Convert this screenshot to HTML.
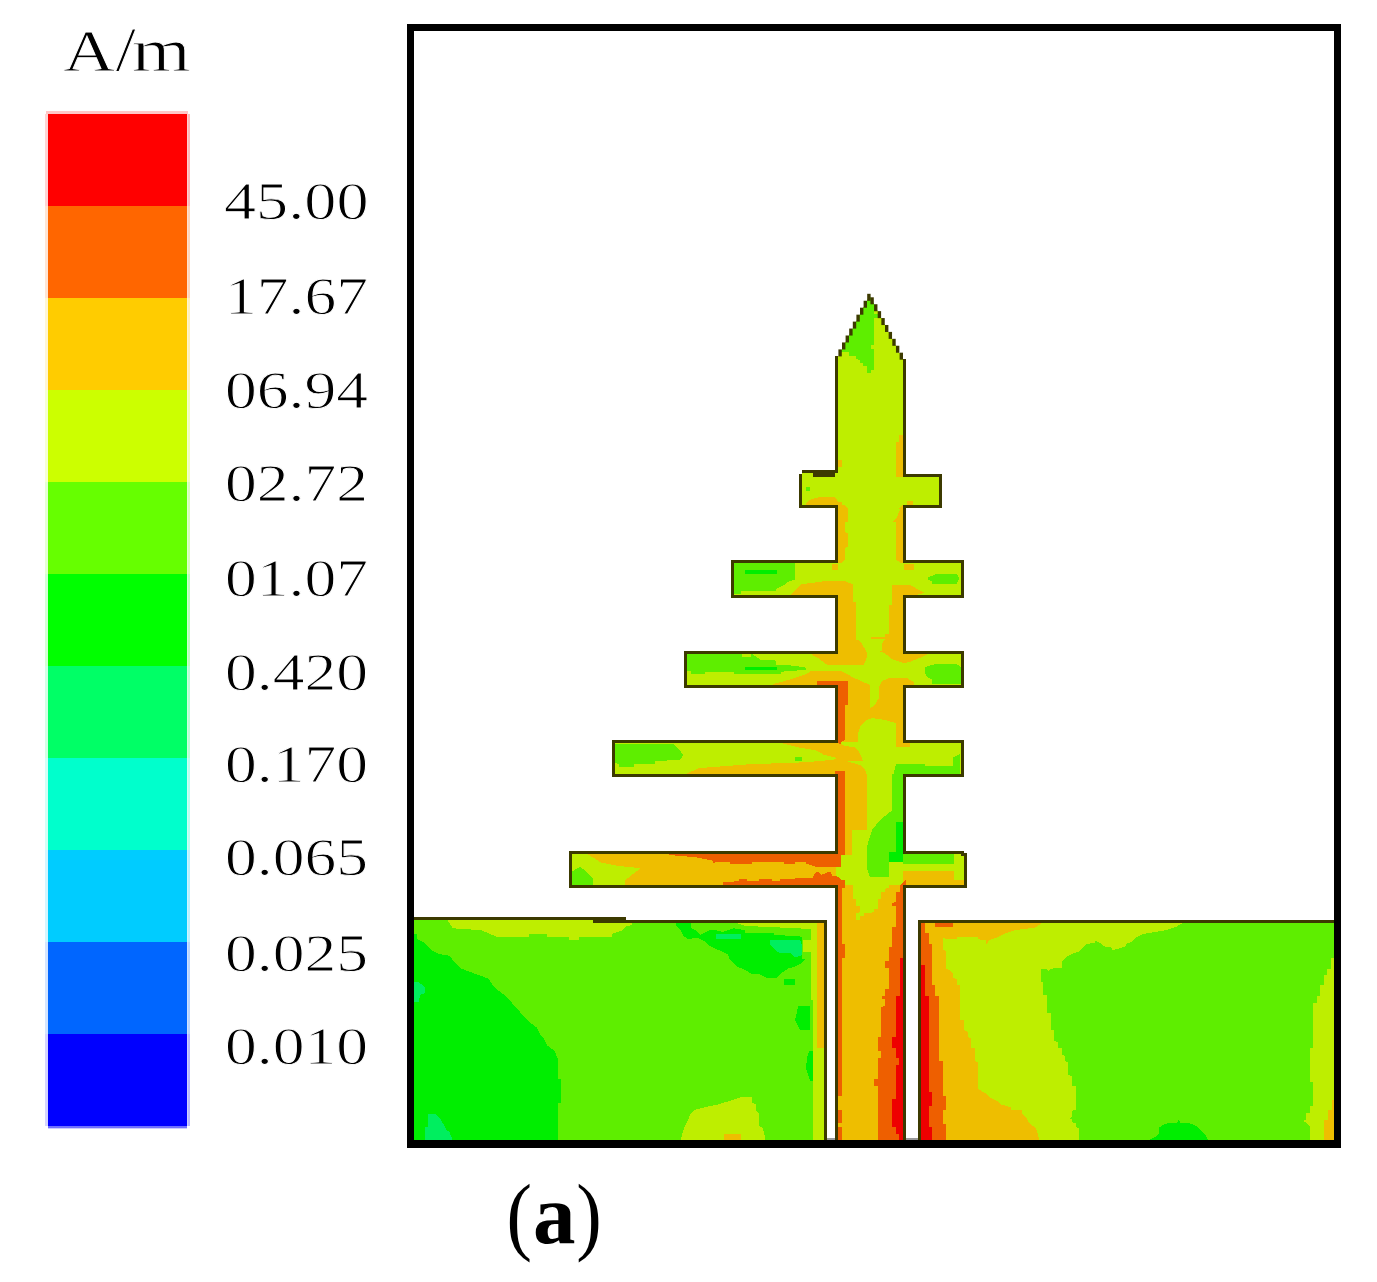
<!DOCTYPE html>
<html><head><meta charset="utf-8">
<style>
html,body{margin:0;padding:0;background:#fff;}
body{width:1377px;height:1282px;overflow:hidden;}
svg{display:block;}
text{font-family:"Liberation Serif",serif;fill:#000;}
</style></head>
<body>
<svg width="1377" height="1282" viewBox="0 0 1377 1282">
<defs>
<clipPath id="ant"><path id="antp" d="M836.5,1141 L836.5,886.5 L570.5,886.5 L570.5,852.5 L836.5,852.5 L836.5,775.5 L613.5,775.5 L613.5,741.5 L836.5,741.5 L836.5,686.5 L685.5,686.5 L685.5,652.5 L836.5,652.5 L836.5,596.5 L732.5,596.5 L732.5,561.5 L836.5,561.5 L836.5,506.5 L800.5,506.5 L800.5,474 L802,474 L802,471.5 L836.5,471.5 L836.5,357 L838.2,356.4 L869.56,295.8 L903,359.2 L904.5,359.2 L904.5,475.5 L940.5,475.5 L940.5,506.5 L904.5,506.5 L904.5,561.5 L962.5,561.5 L962.5,596.5 L904.5,596.5 L904.5,652.5 L962.5,652.5 L962.5,686.5 L904.5,686.5 L904.5,741.5 L962.5,741.5 L962.5,775.5 L904.5,775.5 L904.5,852.5 L962.5,852.5 L962.5,854.5 L965.5,854.5 L965.5,886.5 L904.5,886.5 L904.5,1141 Z"/></clipPath>
<clipPath id="lgpc"><path d="M414,920 H626 V922 H825 V1141 H414 Z"/></clipPath>
<clipPath id="rgpc"><rect x="920" y="922" width="415" height="219"/></clipPath>
</defs>

<!-- legend -->
<g shape-rendering="crispEdges">
<rect x="45" y="111" width="145" height="1018" fill="#fff"/>
<rect x="48" y="114" width="139" height="92" fill="#FF0000"/>
<rect x="48" y="206" width="139" height="92" fill="#FF6600"/>
<rect x="48" y="298" width="139" height="92" fill="#FFCC00"/>
<rect x="48" y="390" width="139" height="92" fill="#CCFF00"/>
<rect x="48" y="482" width="139" height="92" fill="#66FF00"/>
<rect x="48" y="574" width="139" height="92" fill="#00FF00"/>
<rect x="48" y="666" width="139" height="92" fill="#00FF66"/>
<rect x="48" y="758" width="139" height="92" fill="#00FFCC"/>
<rect x="48" y="850" width="139" height="92" fill="#00CCFF"/>
<rect x="48" y="942" width="139" height="92" fill="#0066FF"/>
<rect x="48" y="1034" width="139" height="92" fill="#0000FF"/>
<rect x="45" y="114" width="3" height="92" fill="#FF0000" opacity="0.17"/>
<rect x="187" y="114" width="1" height="92" fill="#FF0000" opacity="0.19"/>
<rect x="188" y="114" width="2" height="92" fill="#FF0000" opacity="0.27"/>
<rect x="45" y="206" width="3" height="92" fill="#FF6600" opacity="0.17"/>
<rect x="187" y="206" width="1" height="92" fill="#FF6600" opacity="0.19"/>
<rect x="188" y="206" width="2" height="92" fill="#FF6600" opacity="0.27"/>
<rect x="45" y="298" width="3" height="92" fill="#FFCC00" opacity="0.17"/>
<rect x="187" y="298" width="1" height="92" fill="#FFCC00" opacity="0.19"/>
<rect x="188" y="298" width="2" height="92" fill="#FFCC00" opacity="0.27"/>
<rect x="45" y="390" width="3" height="92" fill="#CCFF00" opacity="0.17"/>
<rect x="187" y="390" width="1" height="92" fill="#CCFF00" opacity="0.19"/>
<rect x="188" y="390" width="2" height="92" fill="#CCFF00" opacity="0.27"/>
<rect x="45" y="482" width="3" height="92" fill="#66FF00" opacity="0.17"/>
<rect x="187" y="482" width="1" height="92" fill="#66FF00" opacity="0.19"/>
<rect x="188" y="482" width="2" height="92" fill="#66FF00" opacity="0.27"/>
<rect x="45" y="574" width="3" height="92" fill="#00FF00" opacity="0.17"/>
<rect x="187" y="574" width="1" height="92" fill="#00FF00" opacity="0.19"/>
<rect x="188" y="574" width="2" height="92" fill="#00FF00" opacity="0.27"/>
<rect x="45" y="666" width="3" height="92" fill="#00FF66" opacity="0.17"/>
<rect x="187" y="666" width="1" height="92" fill="#00FF66" opacity="0.19"/>
<rect x="188" y="666" width="2" height="92" fill="#00FF66" opacity="0.27"/>
<rect x="45" y="758" width="3" height="92" fill="#00FFCC" opacity="0.17"/>
<rect x="187" y="758" width="1" height="92" fill="#00FFCC" opacity="0.19"/>
<rect x="188" y="758" width="2" height="92" fill="#00FFCC" opacity="0.27"/>
<rect x="45" y="850" width="3" height="92" fill="#00CCFF" opacity="0.17"/>
<rect x="187" y="850" width="1" height="92" fill="#00CCFF" opacity="0.19"/>
<rect x="188" y="850" width="2" height="92" fill="#00CCFF" opacity="0.27"/>
<rect x="45" y="942" width="3" height="92" fill="#0066FF" opacity="0.17"/>
<rect x="187" y="942" width="1" height="92" fill="#0066FF" opacity="0.19"/>
<rect x="188" y="942" width="2" height="92" fill="#0066FF" opacity="0.27"/>
<rect x="45" y="1034" width="3" height="92" fill="#0000FF" opacity="0.17"/>
<rect x="187" y="1034" width="1" height="92" fill="#0000FF" opacity="0.19"/>
<rect x="188" y="1034" width="2" height="92" fill="#0000FF" opacity="0.27"/>
<rect x="46" y="111" width="142" height="3" fill="#FF0000" opacity="0.22"/>
<rect x="48" y="1126" width="139" height="2" fill="#0000FF" opacity="0.56"/>
<rect x="48" y="1128" width="139" height="1" fill="#0000FF" opacity="0.2"/>
</g>
<g font-size="60" stroke="#fff" stroke-width="0.8">
<text transform="translate(63.2,71.1) scale(1.196,1)">A</text>
<text transform="translate(115.6,71.1) scale(1.22,1.045)">/</text>
<text transform="translate(132.1,71.1) scale(1.254,1.025)">m</text>
</g>
<g font-size="52" stroke="#fff" stroke-width="0.9">
<text x="224" y="219.1" textLength="144.5" lengthAdjust="spacingAndGlyphs">45.00</text>
<text x="225" y="314.4" textLength="143" lengthAdjust="spacingAndGlyphs">17.67</text>
<text x="225" y="408.1" textLength="143" lengthAdjust="spacingAndGlyphs">06.94</text>
<text x="225" y="500.7" textLength="143" lengthAdjust="spacingAndGlyphs">02.72</text>
<text x="225" y="596.1" textLength="143" lengthAdjust="spacingAndGlyphs">01.07</text>
<text x="225" y="689.5" textLength="143" lengthAdjust="spacingAndGlyphs">0.420</text>
<text x="225" y="782.2" textLength="143" lengthAdjust="spacingAndGlyphs">0.170</text>
<text x="225" y="874.8" textLength="143" lengthAdjust="spacingAndGlyphs">0.065</text>
<text x="225" y="971.0" textLength="143" lengthAdjust="spacingAndGlyphs">0.025</text>
<text x="225" y="1064.0" textLength="143" lengthAdjust="spacingAndGlyphs">0.010</text>
</g>

<!-- ground planes -->
<g shape-rendering="crispEdges">
<rect x="414" y="920" width="411" height="221" fill="#5EEE00"/>
<rect x="919" y="921" width="416" height="220" fill="#5EEE00"/>
</g>
<g clip-path="url(#lgpc)" shape-rendering="crispEdges">
<polygon fill="#00EE00" points="414,933.8 417.3,933.8 417.3,939.3 424.7,943 428.3,946.7 432,950.3 439.3,954 449.4,955.8 453.1,960.4 457.7,965 461.3,968.7 468.7,971.4 478.8,975.1 488.8,978.8 492.5,985.2 496.2,988.8 503.5,994.3 510.8,1001.7 518.2,1009.9 525.5,1018.2 529.2,1021.8 536.5,1027.3 540.2,1034.7 543.8,1038.3 547.5,1045.7 554.8,1051.2 557.6,1058.5 557.6,1078.7 561.3,1078.7 561.3,1102.5 557.6,1102.5 557.6,1141 414,1141"/>
<polygon fill="#00EE5F" points="414,982.4 419,982.4 424.7,987 424.7,993 420,995 419,1001.7 414,1001.7"/>
<polygon fill="#00EE5F" points="428.3,1113.5 434.8,1113.5 439.3,1117.2 443,1123.6 446.7,1130 449.4,1131.8 453.1,1141 424.7,1141 424.7,1127.2 428.3,1127.2"/>
<polygon fill="#BEEE00" points="446.7,919 453,928.3 481.5,930.2 496.2,936.6 529.2,936.6 529.2,933.5 546.6,933.5 547.5,936.6 568.6,936.6 568.6,939.7 578.7,939.7 578.7,936.6 611.7,936.6 611.7,933.8 622.7,930.2 626.3,926.5 632,925 632,919"/>
<polygon fill="#BEEE00" points="733,922 812,922 812,929 790,928 770,927 745,926"/>
<polygon fill="#00EE00" points="675.9,922.8 690.6,922.8 690.6,927.4 697.9,932 700.7,934.8 709.8,930.2 715.3,930.2 722.7,932 733.7,928.3 744.7,930.2 744.7,932.9 774,932.9 774,934.8 801.5,936.6 802.4,946.7 802.4,958.6 806.1,958.6 801.5,963.2 794.2,966.8 787.8,968.7 781.3,973.3 776.8,977.8 766.7,977.8 759.3,974.2 752,974.2 744.7,969.6 737.3,966.8 733.7,963.2 730,959.5 727.3,954 717.2,949.4 709.8,945.8 704.3,941.2 697,937.5 687.8,939.3 683.3,935.7 680.5,930.2 675.9,925.6"/>
<polygon fill="#00EE5F" points="770,940 800,940 802,945 802,955 795,957.5 790,953 780,953 775,950 770,945"/>
<rect x="716" y="934" width="25" height="5" fill="#00EE5F"/>
<rect x="784" y="979" width="11" height="6" fill="#00EE00"/>
<polygon fill="#00EE00" points="798,1006 809.7,1006 809.7,1030 800,1030 795,1020 797,1012"/>
<polygon fill="#00EE00" points="809,1051 816,1051 816,1081 810,1081 806,1068 807,1058"/>
<rect x="813.4" y="1092.4" width="6.4" height="10.1" fill="#00EE00"/>
<polygon fill="#BEEE00" points="810.7,922 826,922 826,1141 812.5,1141 812.5,1000 810.7,1000"/>
<polygon fill="#BEEE00" points="803,940 812,940 812,952 803,952"/>
<rect x="817" y="922" width="9" height="125.5" fill="#EEBE00"/>
<polygon fill="#BEEE00" points="680.5,1141 684.2,1127.2 687.8,1120.8 690.6,1113.5 694.3,1109.8 705.3,1107.1 719,1104.3 730,1100.7 741,1097 752,1097 752,1102.5 755.7,1104.3 755.7,1109.8 759.3,1113.5 759.3,1126.3 763,1128.3 765.8,1141"/>
<rect x="723.6" y="1133.7" width="17.4" height="7.3" fill="#EEBE00"/>
</g>
<g clip-path="url(#rgpc)" shape-rendering="crispEdges">
<polygon fill="#EEBE00" points="919,922 1042.5,922 1036.1,927.4 1015,930.2 1004,933.8 996.7,937.5 989.3,940.3 986.6,943.9 985.7,940.3 978.3,939.3 978.3,937.1 957.3,937.1 957.3,939.3 946.3,939.3 942.6,937.1 942.6,949.4 946.3,951.3 946.3,968.7 949.9,970.5 953,973.3 953,977.8 957.3,979.7 957.3,985.2 960,985.2 960,1020 963.7,1020 963.7,1030 968.3,1031.9 968.3,1037.4 971,1038.3 971,1047.5 974.7,1048.4 974.7,1061.3 978.3,1062.2 978.3,1088.8 982,1091.5 985.7,1093.3 989.3,1097 996.7,1100.7 1000.3,1104.3 1010.4,1107.1 1011.3,1110 1021.4,1110 1022.3,1113.5 1026,1117.2 1029.7,1123.6 1036.1,1128.3 1039.8,1141 919,1141"/>
<polygon fill="#BEEE00" points="1042.5,922 1036.1,927.4 1015,930.2 1004,933.8 996.7,937.5 989.3,940.3 986.6,943.9 985.7,940.3 978.3,939.3 978.3,937.1 957.3,937.1 957.3,939.3 946.3,939.3 942.6,937.1 942.6,949.4 946.3,951.3 946.3,968.7 949.9,970.5 953,973.3 953,977.8 957.3,979.7 957.3,985.2 960,985.2 960,1020 963.7,1020 963.7,1030 968.3,1031.9 968.3,1037.4 971,1038.3 971,1047.5 974.7,1048.4 974.7,1061.3 978.3,1062.2 978.3,1088.8 982,1091.5 985.7,1093.3 989.3,1097 996.7,1100.7 1000.3,1104.3 1010.4,1107.1 1011.3,1110 1021.4,1110 1022.3,1113.5 1026,1117.2 1029.7,1123.6 1036.1,1128.3 1039.8,1141 1079.2,1141 1079.2,1128.3 1076.4,1127.2 1076.4,1123.6 1072.7,1122.7 1071.8,1119 1069.1,1118.1 1071.8,1117.2 1071.8,1110.7 1075.5,1109.8 1075.5,1086 1071.8,1086 1071.8,1075.9 1068.2,1075 1068.2,1062.2 1065.4,1061.3 1065.4,1055.8 1061.8,1054.8 1061.8,1048.4 1058.1,1047.5 1058.1,1042 1054.4,1041.1 1054.4,1030.1 1050.8,1030.1 1050.8,1012.7 1047.1,1012.7 1047.1,995.3 1043.4,995.3 1043.4,981.5 1040.7,981.5 1040.7,968.7 1047.1,968.7 1048,971.4 1050.8,968.7 1061.8,967.7 1061.8,961.3 1065.4,957.7 1071.8,954 1079.2,951.3 1082.8,947.6 1086.5,943.9 1094.8,943 1094.8,940.3 1101.3,943.9 1104.8,946.7 1112.2,947.6 1112.2,950.3 1125,946.7 1126.4,943.9 1132.8,941.2 1136.5,937.5 1143.8,933.8 1165.8,930.2 1176.8,926.5 1184.2,922"/>
<polygon fill="#EE5F00" points="919,922 924.8,922 924.8,932.9 928.5,932.9 928.5,943.9 932.1,943.9 932.1,985.2 935.3,985.2 935.3,996.2 938.9,996.2 938.9,1061.3 942.6,1061.3 942.6,1096.1 945.7,1096.1 945.7,1109.8 942.6,1109.8 942.6,1123.6 945.7,1123.6 945.7,1141 919,1141"/>
<rect x="935" y="922" width="18" height="4.5" fill="#EE5F00"/>
<polygon fill="#EE0000" points="919,965 924.8,965 924.8,996.2 928.5,996.2 928.5,1092.4 932.1,1092.4 932.1,1106.2 928.5,1106.2 928.5,1127.2 932.1,1127.2 932.1,1141 919,1141"/>
<polygon fill="#BEEE00" points="1335,957.7 1330.9,957.7 1330.9,968.7 1327.2,968.7 1327.2,975.1 1323.9,975.1 1323.9,985.2 1320.2,985.2 1320.2,996.2 1317.1,996.2 1317.1,1002.6 1313.4,1002.6 1313.4,1047.5 1309.8,1047.5 1309.8,1082.3 1313.4,1082.3 1313.4,1106.2 1309.8,1106.2 1309.8,1112.6 1306.1,1113.5 1306.1,1119.9 1302.4,1120.8 1306.1,1122.5 1309.8,1126.3 1309.8,1141 1335,1141"/>
<polygon fill="#EEBE00" points="1331.8,1099.8 1335,1099.8 1335,1141 1323.9,1141 1323.9,1119.9 1328.1,1119.9 1328.1,1109.8 1331.8,1109.8"/>
<polygon fill="#00EE00" points="1147.5,1141 1154.8,1137.3 1158.5,1133.7 1159.4,1127.2 1165.8,1123.6 1176.8,1122.7 1178.7,1119.9 1180.5,1122.7 1191.5,1123.6 1197.9,1127.2 1201.6,1130.9 1205.3,1134.6 1208.9,1141"/>
</g>
<g fill="#3C3A00" shape-rendering="crispEdges">
<rect x="414" y="917" width="180" height="3"/>
<rect x="626" y="920" width="201" height="3"/>
<rect x="824" y="920" width="3" height="221"/>
<rect x="918" y="920" width="3" height="221"/>
<rect x="918" y="920" width="417" height="3"/>
</g>
<rect x="593" y="917" width="33" height="6" fill="#3C3A00" shape-rendering="crispEdges"/>

<!-- antenna -->
<use href="#antp" fill="#BEEE00" shape-rendering="crispEdges"/>
<g clip-path="url(#ant)" shape-rendering="crispEdges">
<polygon fill="#5EEE00" points="869.5,292 880,311 874.2,311 874.2,345.4 870.7,345.4 870.7,348.9 874.2,348.9 874.2,369.6 870.7,369.9 870.7,372.7 866.8,372.7 866.8,366.1 863.3,365.7 863.3,363.2 860.2,362.9 860.2,359.7 856.3,359.4 856.3,356.2 849,355.9 849,352.4 845.8,351.7 835,352"/>
<rect x="874.2" y="311" width="3.8" height="2.8" fill="#BEEE00"/>
<rect x="874.2" y="313.8" width="3.8" height="4.2" fill="#5EEE00"/>
<polygon fill="#EEBE00" points="899.3,434.9 903,434.9 903,476.7 906.8,476.7 906.8,472 903,472 903,476.7 896.1,476.7 896.1,442.4 899.3,442.4"/>
<rect x="899.3" y="434.9" width="4.7" height="42.1" fill="#EEBE00"/>
<rect x="896.1" y="442.4" width="3.9" height="19.9" fill="#EEBE00"/>
<rect x="838.1" y="459.8" width="3.8" height="6.9" fill="#EEBE00"/>
<polygon fill="#EEBE00" points="805.7,504.6 808,501 812,499 818,497.5 827,496.5 833,496.5 836,498 838.1,501.7 841.9,501.7 841.9,505.4 845,505.4 845.4,505.8 848.3,508.7 848.3,521.8 845.4,521.8 845.4,532 848.3,533.4 848.3,546.5 845.4,548 845.4,559.5 841.7,562.5 836,562.5 836,508"/>
<polygon fill="#EEBE00" points="903,505 899.3,508.5 900.5,508.7 896.2,518.9 892.6,521.8 896.2,521.8 896.2,559.5 899.8,562.5 906,562.5 906,505"/>
<rect x="906.8" y="501" width="6.2" height="3.8" fill="#EEBE00"/>
<rect x="806" y="487" width="3.7" height="4" fill="#5EEE00"/>
<rect x="831.6" y="563.9" width="6.5" height="5.8" fill="#EEBE00"/>
<rect x="903.5" y="563.9" width="10.1" height="5.8" fill="#EEBE00"/>
<polygon fill="#5EEE00" points="733.8,563.3 794.6,563.3 794.6,579.5 788.6,581.6 784.5,584.6 776.4,588.7 776.4,590.7 740.9,590.7 740.9,593.7 733.8,593.7"/>
<rect x="745" y="570.4" width="32.4" height="3.1" fill="#00EE00"/>
<polygon fill="#5EEE00" points="927.8,577.7 935.3,574.3 956.8,574.3 959.6,578 956.8,583.7 932.5,583.7 931.5,580.8 927.8,579.9"/>
<polygon fill="#EEBE00" points="789,597 791.6,594.4 801.8,584.2 823.6,581.3 845.4,581.3 852.6,584.2 852.6,601.7 855.5,601.7 855.5,639.4 859.9,640.9 863.5,646.7 867.1,652.5 867.1,656.7 863.5,665.4 827.9,665.4 819.2,658.9 809,653 836,653 836,597"/>
<polygon fill="#EEBE00" points="924.5,593 916.5,588.6 910.7,585 891.8,585 891.8,604.6 888.9,605.3 888.9,633.6 884.6,633.6 884.6,637.3 870.8,637.3 870.8,639.4 884.6,639.4 881.7,643.8 881.7,650.9 878.8,650.9 884.6,653 891.8,658.9 903.5,663.2 910,661.8 920.9,657.4 928.1,653.8 906,653 906,597"/>
<polygon fill="#5EEE00" points="687.2,653.5 741.9,653.5 741.9,656.6 751.1,656.6 751.1,653.5 760.2,659.6 776.4,660.6 776.4,664.7 794.6,665.7 805.8,667.7 805.8,669.8 780.5,671.8 780.5,673.8 733.8,673.8 733.8,671.8 705.4,671.8 705.4,673.8 691.2,673.8 691.2,670.8 687.2,670.8"/>
<rect x="745" y="666.7" width="32.4" height="3.6" fill="#00EE00"/>
<polygon fill="#5EEE00" points="925,667 935.3,664.2 956.8,664.2 960.6,667 960.6,683.9 932.5,683.9 931.5,679.2 927.8,677.3 925,673.6"/>
<polygon fill="#EEBE00" points="773.4,687 773.4,684 788.6,679.9 806.8,673.8 810.5,671.2 841,671.2 848.3,674.9 855.5,678.5 863.5,682.1 870,685 870,708.3 874.4,705.4 878.8,698.1 878.8,688 881.7,681.4 889,677.8 906.4,677.8 913.6,682.1 913.6,687 906,687 906,742 896,742 896,723 885,720 872,718 865,721 860,727 858,734 858,742 836,742 836,687"/>
<polygon fill="#EE5F00" points="817,681.4 848.3,681.4 848.3,705.4 845.4,705.4 845.4,740.2 841,741.7 841,746.8 831.6,746.8 831.6,741.7 836,740 836,685 817,685"/>
<polygon fill="#5EEE00" points="615.2,743.8 673,743.8 680.1,750.9 683.1,754.9 680.1,760 654.7,761 654.7,764 633.5,764 633.5,767.1 619.3,767.1 619.3,764 615.2,763"/>
<rect x="795.3" y="757" width="6.5" height="3.5" fill="#5EEE00"/>
<polygon fill="#EEBE00" points="780.5,743 836,743 838.1,743.1 845.4,746 855.5,747.5 859.9,753.3 862.8,760.5 838.1,760.5 835.2,757.6 823.6,754.7 816.3,750.4 798.9,747.5"/>
<polygon fill="#EEBE00" points="687.2,776 687.2,773.2 699.4,768.1 752.1,764 791.6,763 821,761 838.1,759.1 849.7,762 859.9,764.9 864.2,768.5 867.1,775.1 867.1,778 836,778"/>
<rect x="896.2" y="740" width="13.8" height="6.8" fill="#EEBE00"/>
<polygon fill="#5EEE00" points="896.2,763.5 925.2,763.5 925.2,766.4 952.8,766.4 952.8,757.6 960.1,754 960.1,775.1 903.5,775.1 899.1,776.5 899.1,782.3 896.2,788.1 892.6,788.8 892.6,778"/>
<polygon fill="#EEBE00" points="836,770 845,770 845,778 867,778 867.1,800 867,830 852.4,830 852.4,855 836,855"/>
<rect x="834.5" y="770.7" width="10.5" height="84.3" fill="#EE5F00"/>
<polygon fill="#5EEE00" points="892.4,773.7 906,773.7 906,862.3 888.6,862.3 888.6,877 870,877 867.4,870 867.4,845 872,830 880,820 892.4,810"/>
<polygon fill="#00EE00" points="896,822.4 906,822.4 906,862.3 888.6,862.3 888.6,852 896,852"/>
<polygon fill="#5EEE00" points="903,853.6 953.5,853.6 953.5,863.5 903,863.5"/>
<polygon fill="#EEBE00" points="903,871 963.5,871 966,888 903,888"/>
<rect x="953.5" y="853.6" width="12.5" height="17.4" fill="#BEEE00"/>
<rect x="953.5" y="871" width="12.5" height="9" fill="#BEEE00"/>
<polygon fill="#EEBE00" points="584,852 601.4,862.7 618.8,866 640.6,868.1 625.4,880.1 625.4,889 836,889 836,852"/>
<polygon fill="#EE5F00" points="668.9,852 668.9,855 695.1,857.2 712.5,860.5 712.5,863.8 716.9,861.6 729.9,861.6 729.9,863.8 751.7,863.8 751.7,861.6 784.4,861.6 784.4,863.8 795.3,863.8 795.3,861.6 806.2,861.6 806.2,863.8 817.1,867 841,867 841,852"/>
<polygon fill="#EE5F00" points="723.4,889 723.4,882.3 738.6,881.2 738.6,879 747.4,879 747.4,881.2 759.3,881.2 759.3,879 772.4,879 772.4,881.2 780,881.2 780,879 812.7,877.9 813.8,874.7 817.1,871.4 821.4,874.7 830.2,871.4 832.3,875.8 838.9,876.8 843.2,882.3 845.4,889"/>
<polygon fill="#5EEE00" points="572,871.4 580,867 586,871 592.7,878 592.7,889 572,889"/>
<polygon fill="#EEBE00" points="836,885 906,885 906,1141 836,1141"/>
<polygon fill="#BEEE00" points="850,880 894.9,880 892.4,884.6 888.8,885.1 888.8,888.1 885.3,888.6 885.3,891.7 881.2,892.2 881.2,898.8 877.7,899.3 877.7,908.9 874.1,909.4 874.1,912.4 863.5,913 863.5,916 859.9,916.5 859.9,919.5 856.4,919.5 856.4,913 859.9,912.4 859.9,906.4 856.4,905.9 856.4,899.3 852.8,898.8 852.8,885"/>
<polygon fill="#EE5F00" points="836,880 845,880 845,887.6 842,887.6 842,943.9 845.2,943.9 845.2,957.6 842,957.6 842,1095.6 836,1095.6"/>
<rect x="836" y="1109.8" width="6" height="13.6" fill="#EE5F00"/>
<rect x="836" y="1127" width="6" height="14" fill="#EE5F00"/>
<polygon fill="#EE5F00" points="906,880 903,882 900,885.1 900,891.7 895.9,892.2 895.9,902.3 892.4,902.8 892.4,905.9 895.9,905.9 895.9,926.6 892.4,927.1 892.4,946.9 888.8,947.4 888.8,961.1 885.3,961.1 885.3,967.7 888.8,968.2 888.8,988.5 885.3,989 885.3,995.6 881.7,996.1 881.7,998.6 885.3,999.1 885.3,1006.2 881.3,1006.7 881.3,1037.2 878,1037.2 878,1050.9 881.3,1050.9 881.3,1058 878,1058 878,1078.7 874.2,1078.7 874.2,1085.8 878,1085.8 878,1141 906,1141"/>
<polygon fill="#EE0000" points="906,957.6 899.5,957.6 899.5,995.6 895.9,995.6 896,1037.2 892.2,1037.2 892.2,1047.6 896,1047.6 896,1058 899.3,1058 899.3,1065 896,1065 896,1098.9 892.2,1098.9 892.2,1126.7 896,1126.7 896,1133.8 899.3,1133.8 899.3,1141 906,1141"/>
</g>
<path d="M836.5,355.9 L836.5,471.5 L802,471.5 M800.5,473.5 L800.5,506.5 L836.5,506.5 L836.5,561.5 L732.5,561.5 L732.5,596.5 L836.5,596.5 L836.5,652.5 L685.5,652.5 L685.5,686.5 L836.5,686.5 L836.5,741.5 L613.5,741.5 L613.5,775.5 L836.5,775.5 L836.5,852.5 L570.5,852.5 L570.5,886.5 L836.5,886.5 L836.5,1141 M904.5,1141 L904.5,886.5 L965.5,886.5 L965.5,854.5 L962.5,854.5 L962.5,852.5 L904.5,852.5 L904.5,775.5 L962.5,775.5 L962.5,741.5 L904.5,741.5 L904.5,686.5 L962.5,686.5 L962.5,652.5 L904.5,652.5 L904.5,596.5 L962.5,596.5 L962.5,561.5 L904.5,561.5 L904.5,506.5 L940.5,506.5 L940.5,475.5 L904.5,475.5 L904.5,359" fill="none" stroke="#3C3A00" stroke-width="3" stroke-linejoin="miter" shape-rendering="crispEdges"/>
<g fill="#3C3A00">
<rect x="867.20" y="293.80" width="3.4" height="7"/>
<rect x="863.60" y="300.75" width="3.4" height="7"/>
<rect x="860.00" y="307.70" width="3.4" height="7"/>
<rect x="856.40" y="314.65" width="3.4" height="7"/>
<rect x="852.80" y="321.60" width="3.4" height="7"/>
<rect x="849.20" y="328.55" width="3.4" height="7"/>
<rect x="845.60" y="335.50" width="3.4" height="7"/>
<rect x="842.00" y="342.45" width="3.4" height="7"/>
<rect x="838.40" y="349.40" width="3.4" height="7"/>
<rect x="870.40" y="297.30" width="3.4" height="7"/>
<rect x="874.05" y="304.22" width="3.4" height="7"/>
<rect x="877.70" y="311.14" width="3.4" height="7"/>
<rect x="881.35" y="318.06" width="3.4" height="7"/>
<rect x="885.00" y="324.98" width="3.4" height="7"/>
<rect x="888.65" y="331.90" width="3.4" height="7"/>
<rect x="892.30" y="338.82" width="3.4" height="7"/>
<rect x="895.95" y="345.74" width="3.4" height="7"/>
<rect x="899.60" y="352.66" width="3.4" height="7"/>
</g>
<rect x="813" y="473" width="21.5" height="3.6" fill="#3C3A00" shape-rendering="crispEdges"/>

<!-- frame -->
<g fill="#999" shape-rendering="crispEdges">
<rect x="827" y="1138" width="8" height="2"/>
<rect x="906" y="1138" width="12" height="2"/>
</g>
<g fill="#000" shape-rendering="crispEdges">
<rect x="407" y="24" width="934" height="7"/>
<rect x="407" y="1140" width="934" height="8"/>
<rect x="407" y="24" width="7" height="1124"/>
<rect x="1334" y="24" width="7" height="1124"/>
</g>

<!-- (a) -->
<text transform="translate(506.4,1244) scale(0.9,1.03)" font-size="85">(</text>
<text x="533" y="1243" font-size="85" font-weight="bold">a</text>
<text transform="translate(576.2,1244) scale(0.9,1.03)" font-size="85">)</text>
</svg>
</body></html>
